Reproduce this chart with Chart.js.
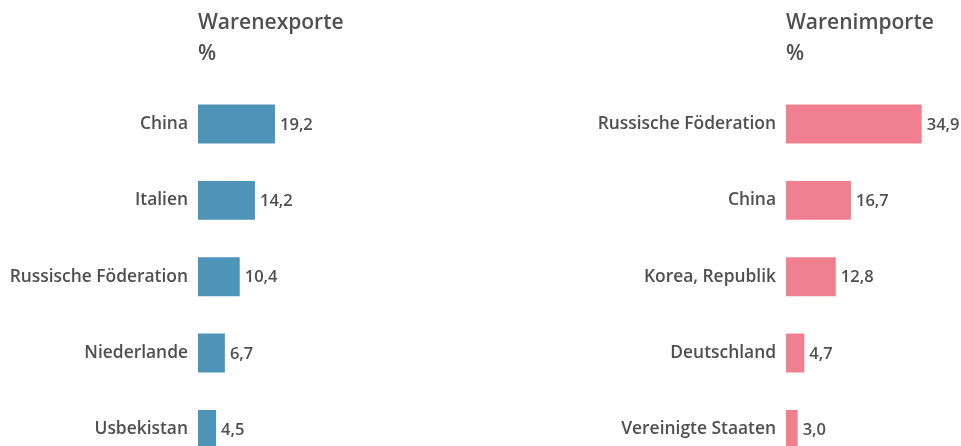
<!DOCTYPE html>
<html lang="de">
  <head>
    <meta charset="UTF-8" />
    <title>Warenexporte und Warenimporte</title>
    <style>
      * {
        margin: 0;
        padding: 0;
        box-sizing: border-box;
      }
      body {
        width: 961px;
        height: 446px;
        overflow: hidden;
        background: #fff;
        font-family: "Open Sans", sans-serif;
      }
      canvas {
        position: absolute;
        top: 0;
      }
      #exportChart {
        left: 0;
      }
      #importChart {
        left: 480px;
      }
    </style>
  </head>
  <body>
    <canvas id="exportChart" width="480" height="488"></canvas>
    <canvas id="importChart" width="481" height="488"></canvas>

    <script src="https://cdn.jsdelivr.net/npm/chart.js"></script>
    <script>
      const exportCountries = ["China", "Italien", "Russische Föderation", "Niederlande", "Usbekistan"];
      const exportValues = [19.2, 14.2, 10.4, 6.7, 4.5];

      const importCountries = ["Russische Föderation", "China", "Korea, Republik", "Deutschland", "Vereinigte Staaten"];
      const importValues = [34.9, 16.7, 12.8, 4.7, 3.0];

      const textColor = "#4f4f4f";
      const fontFamily = "'Open Sans', sans-serif";

      // writes the value right next to each bar
      const valueLabels = {
        id: "valueLabels",
        afterDatasetsDraw(chart) {
          const { ctx } = chart;
          const meta = chart.getDatasetMeta(0);
          const values = chart.data.datasets[0].data;
          ctx.save();
          ctx.font = "600 16.5px " + fontFamily;
          ctx.fillStyle = textColor;
          ctx.textAlign = "left";
          ctx.textBaseline = "middle";
          meta.data.forEach((bar, i) => {
            const txt = values[i].toFixed(1).replace(".", ",");
            ctx.fillText(txt, bar.x + 5, bar.y + 1);
          });
          ctx.restore();
        },
      };

      function makeChart(id, title, labels, values, color, axisWidth, xMax) {
        return new Chart(document.getElementById(id), {
          type: "bar",
          data: {
            labels: labels,
            datasets: [
              {
                data: values,
                backgroundColor: color,
                borderWidth: 0,
                barPercentage: 0.51,
                categoryPercentage: 1,
              },
            ],
          },
          options: {
            indexAxis: "y",
            responsive: false,
            animation: false,
            layout: { padding: 0 },
            plugins: {
              legend: { display: false },
              tooltip: { enabled: false },
              title: {
                display: true,
                text: [title, "%"],
                align: "start",
                fullSize: false,
                color: textColor,
                font: { family: fontFamily, size: 21, weight: "600", lineHeight: 1.45 },
                padding: { top: 8, bottom: 17 },
              },
            },
            scales: {
              x: {
                display: false,
                min: 0,
                max: xMax,
              },
              y: {
                afterFit: (scale) => {
                  scale.width = axisWidth;
                },
                grid: { display: false, drawTicks: false },
                border: { display: false },
                ticks: {
                  padding: 10,
                  color: textColor,
                  font: { family: fontFamily, size: 17.4, weight: "600" },
                },
              },
            },
          },
          plugins: [valueLabels],
        });
      }

      makeChart("exportChart", "Warenexporte", exportCountries, exportValues, "#4e93b8", 198, 70.3);
      makeChart("importChart", "Warenimporte", importCountries, importValues, "#f0808f", 306, 45);
    </script>
  </body>
</html>
